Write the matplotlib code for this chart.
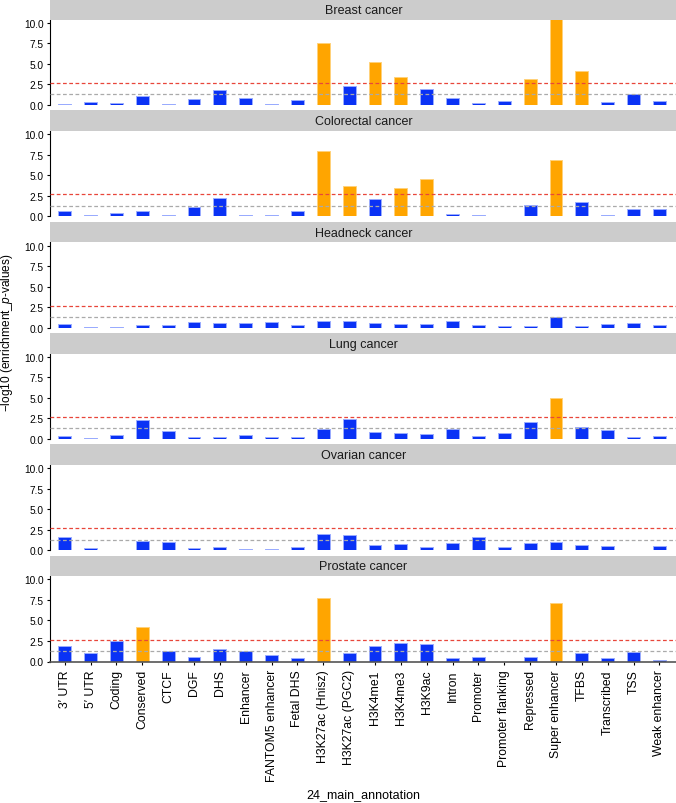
import numpy as np
import matplotlib.pyplot as plt

plt.rcParams['font.family'] = ['Liberation Sans', 'DejaVu Sans']
plt.rcParams['mathtext.fontset'] = 'custom'
plt.rcParams['mathtext.rm'] = 'Liberation Sans'
plt.rcParams['mathtext.it'] = 'Liberation Sans:italic'

annotations = ["3\u2032 UTR", "5\u2032 UTR", "Coding", "Conserved", "CTCF", "DGF", "DHS",
               "Enhancer", "FANTOM5 enhancer", "Fetal DHS", "H3K27ac (Hnisz)",
               "H3K27ac (PGC2)", "H3K4me1", "H3K4me3", "H3K9ac", "Intron", "Promoter",
               "Promoter flanking", "Repressed", "Super enhancer", "TFBS", "Transcribed",
               "TSS", "Weak enhancer"]

cancers = ["Breast cancer", "Colorectal cancer", "Headneck cancer",
           "Lung cancer", "Ovarian cancer", "Prostate cancer"]

# -log10 enrichment p-values
breast = [0.1, 0.35, 0.25, 1.15, 0.15, 0.7, 1.8, 0.9, 0.1, 0.65, 7.55, 2.3,
          5.2, 3.4, 2.0, 0.9, 0.3, 0.5, 3.15, 11.5, 4.15, 0.35, 1.35, 0.45]
colorectal = [0.65, 0.12, 0.4, 0.65, 0.15, 1.15, 2.25, 0.2, 0.1, 0.7, 8.0, 3.75,
              2.1, 3.45, 4.6, 0.25, 0.15, 0.0, 1.4, 6.85, 1.75, 0.15, 0.9, 0.93]
headneck = [0.4, 0.1, 0.03, 0.3, 0.3, 0.65, 0.6, 0.6, 0.65, 0.35, 0.75, 0.75,
            0.6, 0.4, 0.4, 0.8, 0.3, 0.15, 0.25, 1.3, 0.2, 0.4, 0.6, 0.35]
lung = [0.35, 0.12, 0.5, 2.3, 0.95, 0.2, 0.2, 0.5, 0.2, 0.2, 1.2, 2.45,
        0.85, 0.72, 0.6, 1.15, 0.4, 0.7, 2.05, 5.0, 1.4, 1.05, 0.2, 0.35]
ovarian = [1.6, 0.28, 0.08, 1.1, 1.0, 0.25, 0.45, 0.2, 0.2, 0.33, 1.95, 1.9,
           0.62, 0.75, 0.37, 0.85, 1.55, 0.45, 0.9, 1.05, 0.62, 0.5, 0.05, 0.57]
prostate = [1.85, 1.0, 2.55, 4.2, 1.27, 0.5, 1.55, 1.23, 0.75, 0.4, 7.8, 1.07,
            1.93, 2.2, 2.13, 0.37, 0.5, 0.0, 0.57, 7.1, 1.03, 0.4, 1.15, 0.2]
values = [breast, colorectal, headneck, lung, ovarian, prostate]

bonf = -np.log10(0.05 / len(annotations))
nominal = -np.log10(0.05)

W, H = 676, 804
fig = plt.figure(figsize=(W / 100, H / 100), dpi=100)

left_px, right_px = 50, 677
strip_h, ax_h, pitch = 20.7, 85.3, 111.3
x = np.arange(len(annotations))

for k, (name, vals) in enumerate(zip(cancers, values)):
    top = strip_h + pitch * k
    ax = fig.add_axes([left_px / W, 1 - (top + ax_h) / H,
                       (right_px - left_px) / W, ax_h / H])
    st = fig.add_axes([left_px / W, 1 - top / H,
                       (right_px - left_px) / W, strip_h / H])
    st.set_facecolor('#cccccc')
    st.set_xticks([])
    st.set_yticks([])
    for s in st.spines.values():
        s.set_visible(False)
    st.text(0.5, 0.47, name, ha='center', va='center', fontsize=9,
            color='#1a1a1a', transform=st.transAxes)

    vals = np.array(vals)
    sig = vals > bonf
    colors = np.where(sig, '#ffa500', '#0a32f5')
    edges = np.where(sig, '#ffd27a', '#9aacff')
    ax.bar(x, vals, width=0.5, color=colors, edgecolor=edges, linewidth=0.7, zorder=2)
    ax.axhline(bonf, color='#e8463a', ls=(0, (3, 2)), lw=0.9, zorder=3)
    ax.axhline(nominal, color='#aaaaaa', ls=(0, (3, 2)), lw=0.9, zorder=3)

    ax.set_xlim(-0.57, 23.68)
    ax.set_ylim(0, 10.4)
    ax.set_yticks([0, 2.5, 5, 7.5, 10])
    ax.set_yticklabels(['0.0', '2.5', '5.0', '7.5', '10.0'])
    ax.tick_params(axis='y', length=2.5, width=0.8, labelsize=7.3, pad=2)
    for s in ['top', 'right']:
        ax.spines[s].set_visible(False)
    ax.spines['left'].set_linewidth(0.8)
    if k == len(cancers) - 1:
        ax.spines['bottom'].set_color('#555555')
        ax.spines['bottom'].set_linewidth(1.2)
        ax.set_xticks(x)
        ax.set_xticklabels(annotations, rotation=90, fontsize=8.8)
        ax.tick_params(axis='x', length=2.5, width=0.8, pad=3)
    else:
        ax.spines['bottom'].set_visible(False)
        ax.set_xticks([])

fig.text(363 / W, 1 - 795 / H, '24_main_annotation', ha='center', va='center', fontsize=9)
fig.text(7 / W, 1 - 333 / H, r'$-$log10 (enrichment_$p$-values)', rotation=90,
         ha='center', va='center', fontsize=8.6)

fig.savefig('out.png', dpi=100)
